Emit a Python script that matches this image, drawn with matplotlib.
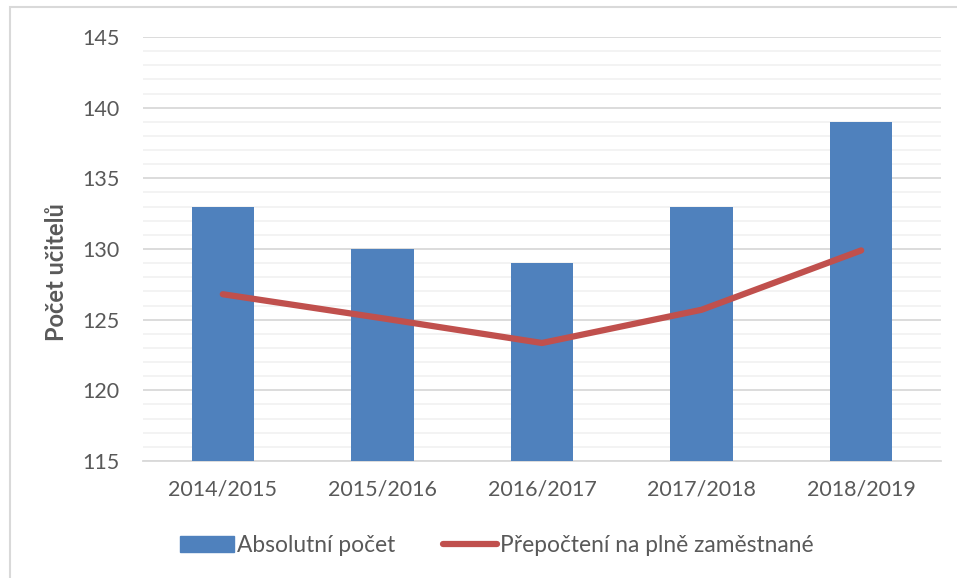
import numpy as np
import matplotlib.pyplot as plt
from matplotlib.patches import Rectangle
from matplotlib.lines import Line2D

# data
roky = ['2014/2015', '2015/2016', '2016/2017', '2017/2018', '2018/2019']
absolutni = [133, 130, 129, 133, 139]
prepocteni = [126.8, 125.1, 123.35, 125.7, 129.9]

plt.rcParams['font.family'] = ['Lato', 'DejaVu Sans']

fig = plt.figure(figsize=(9.57, 5.78), dpi=100)
ax = fig.add_axes([143/957, 1-461/578, (941-143)/957, (461-37)/578])

x = np.arange(len(roky))
ax.bar(x, absolutni, width=0.39, color='#4F81BD', zorder=3, bottom=0)
ax.plot(x, prepocteni, color='#C0504D', lw=4.5, solid_capstyle='round', zorder=4)

ax.set_ylim(115, 145)
ax.set_xlim(-0.5, 4.5)
ax.set_yticks(np.arange(115, 146, 5))
ax.set_yticks(np.arange(115, 146, 1), minor=True)
ax.set_xticks(x)
ax.set_xticklabels(roky)
ax.tick_params(axis='both', length=0, labelsize=15.5, colors='#595959')
ax.tick_params(axis='x', pad=13)
ax.tick_params(axis='y', pad=17)
ax.tick_params(which='minor', length=0)
ax.grid(axis='y', which='major', color='#d9d9d9', lw=1.3, zorder=0)
ax.grid(axis='y', which='minor', color='#f2f2f2', lw=1.3, zorder=0)
for s in ['top', 'right', 'left']:
    ax.spines[s].set_visible(False)
ax.spines['bottom'].set_color('#d9d9d9')
ax.spines['bottom'].set_linewidth(1.3)
ax.set_ylabel('Počet učitelů', fontsize=17, fontweight='bold', color='#595959')
ax.yaxis.set_label_coords(-0.109, 0.446)
ax.yaxis.label.set_verticalalignment('center')

# chart frame
fig.patches.append(Rectangle((10/957, -0.1), 1.1, 1-7/578+0.1, transform=fig.transFigure,
                             fill=False, edgecolor='#d9d9d9', lw=1.5))

handles = [Rectangle((0, 0), 1, 1, color='#4F81BD'),
           Line2D([0], [0], color='#C0504D', lw=4.5, solid_capstyle='round')]
fig.legend(handles, ['Absolutní počet', 'Přepočtení na plně zaměstnané'],
           loc='center', bbox_to_anchor=(497/957, 1-545/578), ncol=2, frameon=False,
           fontsize=16.4, labelcolor='#595959', handlelength=2.35, handletextpad=0.15,
           columnspacing=2.1)

fig.savefig('out.png', dpi=100)
